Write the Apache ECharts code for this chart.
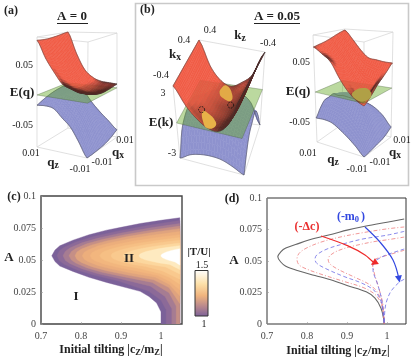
<!DOCTYPE html>
<html>
<head>
<meta charset="utf-8">
<style>
  html, body { margin: 0; padding: 0; background: #fff; }
  #chart { width: 415px; height: 359px; }
</style>
</head>
<body>
<div id="chart"></div>
<script src="https://cdn.jsdelivr.net/npm/echarts@6/dist/echarts.min.js"></script>
<script>
// tick labels of panels c and d
const tiltTicks = [0.7, 0.8, 0.9, 1]
const aTicks = [0, 0.025, 0.05, 0.075, 0.1]

// panel a, E(q): rows go qz 0.01 -> -0.01, columns qx -0.01 -> 0.01
const redA = [
  [.0912, .0905, .0905, .0915, .0930, .0950, .0967],
  [.0633, .0595, .0565, .0555, .0555, .0565, .0582],
  [.0422, .0365, .0315, .0290, .0275, .0275, .0285],
  [.0244, .0185, .0130, .0110, .0105, .0120, .0149],
  [.0184, .0120, .0060, .0030, .0040, .0065, .0090],
  [.0142, .0095, .0050, .0020, .0030, .0055, .0077],
  [.0145, .0100, .0065, .0045, .0045, .0055, .0068]
]
const blueA = [
  [-.0170, -.0130, -.0095, -.0065, -.0045, -.0032, -.0027],
  [-.0157, -.0115, -.0075, -.0040, -.0030, -.0035, -.0050],
  [-.0180, -.0125, -.0060, -.0025, -.0030, -.0080, -.0143],
  [-.0308, -.0230, -.0140, -.0070, -.0100, -.0210, -.0326],
  [-.0433, -.0360, -.0290, -.0240, -.0280, -.0370, -.0480],
  [-.0643, -.0590, -.0530, -.0500, -.0520, -.0570, -.0610],
  [-.0867, -.0867, -.0860, -.0850, -.0830, -.0790, -.0740]
]

// panel b left, E(k): rows kz 0.4 -> -0.4, columns kx -0.4 -> 0.4
const redK = [
  [3.7, 3.7, 3.7, 3.7, 3.7, 3.7, 3.7],
  [1.97, 1.65, 1.45, 1.40, 1.38, 1.40, 1.46],
  [.82, .55, .38, .30, .25, .24, .26],
  [.17, -.05, -.20, -.25, -.28, -.20, -.14],
  [.23, .05, -.10, -.12, -.08, .10, .38],
  [1.38, 1.20, 1.05, 1.0, 1.02, 1.12, 1.32],
  [3.7, 3.7, 3.7, 3.7, 3.7, 3.7, 3.7]
]
const blueK = [
  [-3.5, -1.5, -.7, -.4, -.4, -.8, -1.6],
  [-2.9, -1.1, -.4, -.15, -.1, -.4, -.9],
  [-2.6, -.9, -.3, -.1, -.05, -.25, -.6],
  [-2.5, -.8, -.3, -.08, -.05, -.2, -.5],
  [-2.6, -.9, -.35, -.1, -.05, -.3, -.7],
  [-3.0, -1.5, -.7, -.35, -.25, -.7, -1.5],
  [-3.5, -2.4, -1.3, -.8, -.5, -1.8, -3.5]
]
// [kz, kx] on the E = 0 plane
const lobeOne = [[.181, -.118], [.124, -.118], [-.021, -.234], [-.04, -.321], [.035, -.366], [.106, -.297]]
const lobeTwo = [[.097, .32], [.048, .374], [-.066, .246], [-.082, .14], [.018, .16], [.088, .23]]
const nodes = [[.202, -.09], [-.105, .074]]

// panel b right, E(q)
const redB = [
  [.0750, .0770, .0790, .0820, .0860, .0900, .0930],
  [.0658, .0640, .0630, .0640, .0680, .0730, .0772],
  [.0550, .0490, .0450, .0440, .0480, .0540, .0600],
  [.0316, .0280, .0240, .0240, .0300, .0390, .0470],
  [.0137, .0100, .0060, .0080, .0180, .0320, .0448],
  [.0023, -.0010, -.0005, .0060, .0170, .0300, .0428],
  [-.0040, .0020, .0100, .0190, .0260, .0340, .0425]
]
const blueB = [
  [-.0430, -.0305, -.0207, -.0190, -.0170, -.0240, -.0280],
  [-.0420, -.0280, -.0160, -.0120, -.0130, -.0230, -.0296],
  [-.0440, -.0300, -.0150, -.0080, -.0110, -.0220, -.0300],
  [-.0517, -.0370, -.0210, -.0090, -.0130, -.0240, -.0330],
  [-.0608, -.0480, -.0320, -.0180, -.0220, -.0320, -.0390],
  [-.0713, -.0620, -.0510, -.0410, -.0400, -.0450, -.0500],
  [-.0830, -.0820, -.0800, -.0780, -.0760, -.0720, -.0660]
]
const crossPatch = [[-.0008, -.0021], [-.0018, .0053], [-.0078, -.0009], [-.0089, -.0082], [-.0054, -.0080]]

// panel c, contours of |T/U| as [tilting, A], outermost first
const bandColors = ['#7b6199', '#8c6a98', '#a67c92', '#c58f86', '#dfa37e', '#ecae7c', '#f2b67e',
  '#f6bf84', '#f9c98e', '#fcd79e', '#feeac0', '#ffffff']
const bandEdges = [
  [[.727, .0533], [.735, .0578], [.747, .0611], [.78, .0655], [.82, .0697], [.864, .0733], [.9, .0755], [.948, .0785], [1.0, .081], [1.047, .083],
   [1.047, 0], [1.0, 0], [1.0, .0095], [.989, .0165], [.97, .0215], [.948, .0255], [.9, .0295], [.864, .0325], [.82, .0365], [.78, .0411], [.747, .0453], [.735, .0488]],
  [[.74, .0533], [.746, .0572], [.758, .06], [.789, .0643], [.832, .0684], [.894, .0727], [.97, .0771], [1.047, .0808],
   [1.047, 0], [1.013, 0], [1.013, .011], [1.0, .0185], [.97, .0255], [.894, .0335], [.832, .0382], [.789, .0423], [.758, .0466], [.746, .0494]],
  [[.755, .0533], [.761, .0569], [.773, .0595], [.802, .0634], [.843, .0671], [.901, .0711], [.974, .0751], [1.047, .0785],
   [1.047, 0], [1.027, 0], [1.027, .012], [1.01, .0215], [.974, .0295], [.901, .0352], [.843, .0392], [.802, .0432], [.773, .0471], [.761, .0497]],
  [[.77, .0533], [.776, .0566], [.787, .059], [.814, .0626], [.853, .066], [.909, .0697], [.978, .0734], [1.047, .0765],
   [1.047, 0], [1.038, 0], [1.038, .014], [1.02, .0245], [.978, .0325], [.909, .0368], [.853, .0404], [.814, .044], [.787, .0476], [.776, .05]],
  [[.785, .0533], [.79, .0563], [.801, .0585], [.827, .0618], [.864, .0649], [.916, .0683], [.982, .0717], [1.047, .0745],
   [1.047, .016], [1.02, .0285], [.982, .0345], [.916, .0382], [.864, .0416], [.827, .0448], [.801, .0481], [.79, .0503]],
  [[.803, .0533], [.808, .056], [.818, .0579], [.842, .0609], [.876, .0637], [.925, .0667], [.986, .0697], [1.047, .0722],
   [1.047, .022], [1.02, .031], [.986, .0365], [.925, .0398], [.876, .0429], [.842, .0457], [.818, .0487], [.808, .0506]],
  [[.823, .0533], [.827, .0556], [.836, .0573], [.859, .0599], [.89, .0623], [.935, .065], [.991, .0676], [1.047, .0698],
   [1.047, .0265], [1.02, .0335], [.991, .038], [.935, .0416], [.89, .0443], [.859, .0467], [.836, .0493], [.827, .051]],
  [[.847, .0533], [.851, .0553], [.859, .0568], [.879, .059], [.907, .0611], [.947, .0633], [.997, .0656], [1.047, .0675],
   [1.047, .031], [1.02, .0365], [.997, .0395], [.947, .0433], [.907, .0455], [.879, .0476], [.859, .0498], [.851, .0513]],
  [[.875, .0533], [.878, .055], [.885, .0563], [.903, .0582], [.927, .06], [.961, .0619], [1.004, .0639], [1.047, .0655],
   [1.047, .035], [1.004, .0415], [.961, .045], [.927, .0466], [.903, .0484], [.885, .0503], [.878, .0516]],
  [[.905, .0533], [.908, .0547], [.914, .0557], [.928, .0573], [.948, .0587], [.976, .0603], [1.012, .0619], [1.047, .0632],
   [1.047, .039], [1.012, .0445], [.976, .0463], [.948, .0479], [.928, .0493], [.914, .0509], [.908, .0519]],
  [[.945, .0533], [.947, .0544], [.951, .0552], [.961, .0565], [.976, .0576], [.996, .0589], [1.022, .0601], [1.047, .0612],
   [1.047, .0425], [1.022, .0465], [.996, .0477], [.976, .049], [.961, .0501], [.951, .0514], [.947, .0522]],
  [[1.0, .0533], [1.001, .0541], [1.003, .0546], [1.008, .0555], [1.014, .0563], [1.024, .0572], [1.035, .0581], [1.047, .0588],
   [1.047, .046], [1.035, .0485], [1.024, .0494], [1.014, .0503], [1.008, .0511], [1.003, .052], [1.001, .0525]]
]

// panel d, [tilting, A]
const boundary = [[1.043, .0833], [1.0, .0808], [.948, .0778], [.9, .0745], [.865, .0715], [.82, .068], [.78, .064], [.747, .0603], [.735, .0575], [.727, .0533],
  [.735, .049], [.747, .0458], [.78, .042], [.82, .0385], [.865, .0345], [.9, .0305], [.948, .0255], [.97, .0205], [.985, .0125], [.991, .005], [.993, 0]]
const redOuter = [[1.043, .077], [1.0, .0755], [.94, .0725], [.89, .0695], [.84, .0655], [.8, .0605], [.78, .056], [.775, .0515],
  [.78, .047], [.8, .0435], [.84, .039], [.89, .034], [.94, .029], [.97, .0235], [.985, .0165], [.99, .009], [.993, 0]]
const redMiddle = [[1.043, .069], [1.0, .0668], [.97, .0655], [.92, .0622], [.88, .0585], [.858, .0545], [.853, .051],
  [.858, .0475], [.88, .043], [.92, .037], [.96, .0305], [.98, .023], [.99, .012], [.993, 0]]
const redInner = [[1.043, .0585], [1.0, .0545], [.975, .052], [.962, .049], [.965, .045], [.97, .038], [.98, .028], [.99, .015], [.993, 0]]
const blueOuter = [[1.043, .0735], [1.0, .0705], [.94, .0675], [.89, .0635], [.85, .0595], [.825, .055], [.82, .0515],
  [.825, .048], [.85, .0435], [.89, .038], [.94, .032], [.97, .026], [.985, .018], [.99, .009], [.993, 0]]
const blueMiddle = [[1.043, .0595], [1.0, .055], [.98, .052], [.968, .049], [.965, .043], [.975, .033], [.985, .022], [.99, .012], [.993, 0]]
const blueInner = [[1.043, .0355], [1.03, .033], [1.01, .026], [1.0, .019], [.995, .012], [.993, 0]]
const arrowRed = [[.835, .0698], [.9025, .062], [.945, .0548], [.9675, .0484]]
const arrowBlue = [[.945, .077], [.9825, .065], [1.015, .0508], [1.03, .0357]]

const serif = '"Liberation Serif", serif'

// where the corners of each 3d box land on the page
const boxA = {
  low: [[37, 147], [87, 158], [117, 137], [68, 128]], high: [[37, 37], [88, 42], [117, 33], [68, 32]],
  eMin: -.0867, eMax: .0967, uMax: .01, vMax: .01, lo: .8, hi: 1.5, redOnTop: false
}
const boxK = {
  low: [[180, 158], [244, 175], [260, 125], [201, 118]], high: [[173, 86], [240, 100], [265, 52], [199, 40]],
  eMin: -3.5, eMax: 3.7, uMax: .4, vMax: .4, lo: .6, hi: 1.5, redOnTop: true
}
const boxB = {
  low: [[317, 142], [364, 157], [391, 137], [341, 125]], high: [[313, 35], [364, 42], [393, 32], [345, 29]],
  eMin: -.083, eMax: .095, uMax: .01, vMax: .01, lo: .8, hi: 1.6, redOnTop: false
}

function mix (a, b, t) { return a + (b - a) * t }

// trilinear, u along rows (0..1), v along columns (0..1), w up the box
function project (box, u, v, w) {
  const at = (c) => [0, 1].map(k =>
    (1 - u) * (1 - v) * c[0][k] + u * (1 - v) * c[1][k] + u * v * c[2][k] + (1 - u) * v * c[3][k])
  const a = at(box.low)
  const b = at(box.high)
  return [mix(a[0], b[0], w), mix(a[1], b[1], w)]
}

function projectE (box, u, v, e) {
  const c = Math.max(box.eMin, Math.min(box.eMax, e))
  return project(box, u, v, (c - box.eMin) / (box.eMax - box.eMin))
}

// positive when the quad shows its upper side
function quadArea (p) {
  return -((p[2][0] - p[0][0]) * (p[3][1] - p[1][1]) - (p[3][0] - p[1][0]) * (p[2][1] - p[0][1])) / 2
}

// drawing only: rounds the hand read mesh so the facets do not show
function refineLine (arr, k) {
  const n = arr.length - 1
  const out = []
  for (let i = 0; i < n; i++) {
    const p0 = arr[Math.max(i - 1, 0)]
    const p1 = arr[i]
    const p2 = arr[i + 1]
    const p3 = arr[Math.min(i + 2, n)]
    for (let s = 0; s < k; s++) {
      const t = s / k
      out.push(0.5 * (2 * p1 + (p2 - p0) * t + (2 * p0 - 5 * p1 + 4 * p2 - p3) * t * t + (3 * p1 - p0 - 3 * p2 + p3) * t * t * t))
    }
  }
  out.push(arr[n])
  return out
}

function refine (grid, k) {
  const rows = grid.map(r => refineLine(r, k))
  const cols = rows[0].map((_, j) => refineLine(rows.map(r => r[j]), k))
  return cols[0].map((_, i) => cols.map(c => c[i]))
}

function surfaceQuads (api, box, grid, color, lit) {
  const n = grid.length - 1
  const base = Math.abs(quadArea(box.low)) / (n * n)
  const out = { below: [], above: [] }
  for (let i = 0; i < n; i++) {
    for (let j = 0; j < n; j++) {
      const raw = [[i, j], [i + 1, j], [i + 1, j + 1], [i, j + 1]].map(c =>
        projectE(box, c[0] / n, c[1] / n, grid[c[0]][c[1]]))
      let fill = color
      if (lit) {
        const r = quadArea(raw) / base
        const t = Math.max(0, Math.min(1, (r - box.lo) / (box.hi - box.lo)))
        fill = 'rgb(' + Math.round(mix(88, 240, t)) + ',' + Math.round(mix(38, 92, t)) + ',' + Math.round(mix(36, 70, t)) + ')'
      }
      const el = {
        type: 'polygon',
        shape: { points: raw.map(p => api.coord(p)) },
        style: { fill: fill, stroke: fill, lineWidth: 0.5 }
      }
      const mean = (grid[i][j] + grid[i + 1][j] + grid[i + 1][j + 1] + grid[i][j + 1]) / 4
      if (mean < 0 && !(lit && box.redOnTop)) out.below.push(el)
      else out.above.push(el)
    }
  }
  return out
}

function surfaceEdge (api, box, grid) {
  const n = grid.length - 1
  const pts = []
  for (let i = 0; i <= n; i++) pts.push([i, 0])
  for (let j = 1; j <= n; j++) pts.push([n, j])
  for (let i = n - 1; i >= 0; i--) pts.push([i, n])
  for (let j = n - 1; j >= 0; j--) pts.push([0, j])
  return {
    type: 'polyline',
    shape: { points: pts.map(c => api.coord(projectE(box, c[0] / n, c[1] / n, grid[c[0]][c[1]]))) },
    style: { fill: 'none', stroke: 'rgba(60,60,60,.65)', lineWidth: 0.7 }
  }
}

function plane (api, box, fill, edge) {
  const pts = [[0, 0], [1, 0], [1, 1], [0, 1]]
  return {
    type: 'polygon',
    shape: { points: pts.map(c => api.coord(projectE(box, c[0], c[1], 0))) },
    style: { fill: fill, stroke: edge, lineWidth: 0.6 }
  }
}

function wire (api, a, b) {
  return {
    type: 'line',
    shape: { x1: api.coord(a)[0], y1: api.coord(a)[1], x2: api.coord(b)[0], y2: api.coord(b)[1] },
    style: { stroke: '#d2d2d2', lineWidth: 0.7 }
  }
}

function boxWires (api, box) {
  const out = []
  for (let k = 0; k < 4; k++) {
    out.push(wire(api, box.low[k], box.low[(k + 1) % 4]))
    out.push(wire(api, box.high[k], box.high[(k + 1) % 4]))
    out.push(wire(api, box.low[k], box.high[k]))
  }
  return out
}

function flatPatch (api, box, pts, fill) {
  return {
    type: 'polygon',
    shape: {
      smooth: 0.5,
      points: pts.map(p => api.coord(projectE(box, (box.uMax - p[0]) / (2 * box.uMax), (p[1] + box.vMax) / (2 * box.vMax), 0)))
    },
    style: { fill: fill }
  }
}

function surfaceSeries (box, red, blue, extra) {
  const redFine = refine(red, 4)
  const blueFine = refine(blue, 4)
  return {
    type: 'custom',
    xAxisIndex: 0,
    yAxisIndex: 0,
    coordinateSystem: 'cartesian2d',
    clip: false,
    silent: true,
    data: [[0, 0]],
    renderItem: function (params, api) {
      const r = surfaceQuads(api, box, redFine, null, true)
      const b = surfaceQuads(api, box, blueFine, 'rgb(142,146,206)', false)
      const children = boxWires(api, box)
        .concat(b.below, b.above, [surfaceEdge(api, box, blueFine)], r.below)
        .concat([plane(api, box, 'rgba(110,190,40,.4)', 'rgba(70,90,60,.55)')], r.above, [surfaceEdge(api, box, redFine)])
        .concat([plane(api, box, 'rgba(50,70,30,.07)', 'none')], extra(api))
      return { type: 'group', children: children }
    }
  }
}

function nodeMarks (api) {
  return nodes.map(p => {
    const c = api.coord(projectE(boxK, (boxK.uMax - p[0]) / (2 * boxK.uMax), (p[1] + boxK.vMax) / (2 * boxK.vMax), 0))
    return {
      type: 'circle',
      shape: { cx: c[0], cy: c[1], r: 3 },
      style: { fill: 'none', stroke: '#111', lineWidth: 0.9, lineDash: [1.6, 1.2] }
    }
  })
}

function txt (text, x, y, size, opt) {
  opt = opt || {}
  return {
    type: 'text',
    x: x,
    y: y,
    z: 50,
    silent: true,
    style: {
      text: text,
      font: (opt.bold ? 'bold ' : '') + size + 'px ' + serif,
      fill: opt.color || '#222',
      align: opt.align || 'center',
      verticalAlign: 'middle',
      rich: opt.rich
    }
  }
}

function subRich (size, color) {
  return {
    m: { font: 'bold ' + size + 'px ' + serif, fill: color, lineHeight: size + 2, verticalAlign: 'middle' },
    s: { font: 'bold ' + (size - 3.5) + 'px ' + serif, fill: color, lineHeight: size - 6, verticalAlign: 'bottom' }
  }
}

function subLabel (main, sub, x, y, size, opt) {
  opt = opt || {}
  const color = opt.color || '#222'
  return txt('{m|' + main + '}{s|' + sub + '}', x, y, size, { bold: true, color: color, rich: subRich(size, color) })
}

function rule (x1, x2, y) {
  return { type: 'line', z: 50, silent: true, shape: { x1: x1, y1: y, x2: x2, y2: y }, style: { stroke: '#222', lineWidth: 1 } }
}

function tiltTitle (x, y) {
  return txt('{m|Initial tilting |c}{s|Z}{m|/m}{s|Z}{m||}', x, y, 12, { bold: true, rich: subRich(12, '#222') })
}

function lineSeries (data, axis, color, width, dash) {
  return {
    type: 'line',
    xAxisIndex: axis,
    yAxisIndex: axis,
    data: data,
    smooth: 0.35,
    symbol: 'none',
    silent: true,
    lineStyle: { color: color, width: width, type: dash || 'solid' }
  }
}

function arrowSeries (data, axis, color, rotate) {
  const s = lineSeries(data, axis, color, 1.2)
  s.showSymbol = true
  s.symbol = (v, p) => p.dataIndex === data.length - 1 ? 'triangle' : 'none'
  s.symbolSize = 7
  s.symbolRotate = rotate
  s.itemStyle = { color: color }
  s.z = 5
  return s
}

const tickLabel = { fontFamily: serif, fontSize: 10, color: '#444' }

function tiltAxis (gridIndex, max) {
  return {
    type: 'value',
    gridIndex: gridIndex,
    min: tiltTicks[0],
    max: max,
    interval: 0.1,
    axisLine: { show: false },
    axisTick: { show: true, inside: true, length: 2, lineStyle: { color: '#999', width: 0.6 } },
    splitLine: { show: false },
    axisLabel: Object.assign({ margin: 7, showMaxLabel: false, formatter: v => tiltTicks.some(t => Math.abs(t - v) < 1e-6) ? String(+v.toFixed(1)) : '' }, tickLabel)
  }
}

function aAxis (gridIndex) {
  return {
    type: 'value',
    gridIndex: gridIndex,
    min: aTicks[0],
    max: aTicks[aTicks.length - 1],
    interval: 0.025,
    axisLine: { show: false },
    axisTick: { show: true, inside: true, length: 2, lineStyle: { color: '#999', width: 0.6 } },
    splitLine: { show: false },
    axisLabel: Object.assign({ margin: 5, formatter: v => String(+v.toFixed(3)) }, tickLabel)
  }
}

const chart = echarts.init(document.getElementById('chart'), null, { renderer: 'canvas' })
chart.setOption({
  animation: false,
  backgroundColor: '#fff',
  grid: [
    { left: 0, top: 0, width: 415, height: 359, show: false },
    { left: 41, top: 196, width: 141, height: 128, show: true, borderColor: '#444', borderWidth: 1.4, backgroundColor: '#fff' },
    { left: 267, top: 198, width: 139, height: 126, show: true, borderColor: '#333', borderWidth: 1, backgroundColor: '#fff' }
  ],
  xAxis: [
    { type: 'value', gridIndex: 0, min: 0, max: 415, show: false },
    tiltAxis(1, 1.0525),
    tiltAxis(2, 1.0475)
  ],
  yAxis: [
    { type: 'value', gridIndex: 0, min: 0, max: 359, inverse: true, show: false },
    aAxis(1),
    aAxis(2)
  ],
  series: [
    surfaceSeries(boxA, redA, blueA, () => []),
    surfaceSeries(boxK, redK, blueK, api => [
      flatPatch(api, boxK, lobeOne, 'rgb(232,178,72)'),
      flatPatch(api, boxK, lobeTwo, 'rgb(226,170,70)')
    ].concat(nodeMarks(api))),
    surfaceSeries(boxB, redB, blueB, api => [flatPatch(api, boxB, crossPatch, 'rgb(176,160,70)')]),
    {
      type: 'custom',
      xAxisIndex: 1,
      yAxisIndex: 1,
      silent: true,
      clip: true,
      data: bandColors.map((c, i) => [i, 0]),
      renderItem: function (params, api) {
        return {
          type: 'polygon',
          shape: { points: bandEdges[params.dataIndex].map(p => api.coord(p)) },
          style: { fill: bandColors[params.dataIndex], stroke: bandColors[params.dataIndex], lineWidth: 0.4 }
        }
      }
    },
    lineSeries(boundary, 2, '#666', 1.1),
    lineSeries(redOuter, 2, '#ee7d7d', 0.8, [4, 2, 1, 2]),
    lineSeries(redMiddle, 2, '#ee7d7d', 0.8, [4, 2, 1, 2]),
    lineSeries(redInner, 2, '#ee7d7d', 0.8, [4, 2, 1, 2]),
    lineSeries(blueOuter, 2, '#6c6ce6', 0.8, [4, 2.5]),
    lineSeries(blueMiddle, 2, '#6c6ce6', 0.8, [4, 2.5]),
    lineSeries(blueInner, 2, '#6c6ce6', 0.8, [4, 2.5]),
    arrowSeries(arrowRed, 2, '#ee2a2a', 125),
    arrowSeries(arrowBlue, 2, '#3348e0', 190)
  ],
  graphic: [
    { type: 'rect', z: -1, silent: true, shape: { x: 135.5, y: 3.5, width: 273, height: 182 }, style: { fill: 'none', stroke: '#c9c9c9', lineWidth: 1.6 } },
    txt('(a)', 4, 11, 12, { bold: true, align: 'left' }),
    txt('(b)', 140, 10, 12, { bold: true, align: 'left' }),
    txt('(c)', 14, 197, 12, { bold: true }),
    txt('(d)', 232, 199, 12, { bold: true }),
    txt('A = 0', 72, 17, 13, { bold: true }),
    rule(57, 88, 23.5),
    txt('A = 0.05', 277, 17, 13, { bold: true }),
    rule(254, 300, 23.5),
    txt('0.05', 33, 65, 10, { align: 'right' }),
    txt('E(q)', 22, 93, 13, { bold: true }),
    txt('-0.05', 33, 125, 10, { align: 'right' }),
    txt('0.01', 31, 153, 10),
    subLabel('q', 'z', 53, 163, 13),
    txt('-0.01', 80, 169, 10),
    txt('-0.01', 102, 162, 10),
    subLabel('q', 'x', 118, 153, 13),
    txt('0.01', 125, 140, 10),
    txt('0.4', 184, 40, 10),
    txt('0.4', 210, 30, 10),
    subLabel('k', 'x', 175, 55, 13),
    subLabel('k', 'z', 240, 36, 13),
    txt('-0.4', 268, 43, 10),
    txt('-0.4', 161, 75, 10),
    txt('3', 163, 93, 10),
    txt('-3', 172, 153, 10),
    txt('E(k)', 161, 123, 13, { bold: true }),
    txt('0.05', 310, 62, 10, { align: 'right' }),
    txt('E(q)', 298, 92, 13, { bold: true }),
    txt('-0.05', 310, 122, 10, { align: 'right' }),
    txt('0.01', 308, 153, 10),
    subLabel('q', 'z', 333, 160, 13),
    txt('-0.01', 357, 169, 10),
    txt('-0.01', 380, 162, 10),
    subLabel('q', 'x', 395, 153, 13),
    txt('0.01', 402, 140, 10),
    txt('A', 9, 258, 13, { bold: true }),
    txt('I', 76, 297, 13, { bold: true }),
    txt('II', 129, 259, 13, { bold: true }),
    txt('|T/U|', 199, 252, 11, { bold: true }),
    txt('1.5', 202, 265, 10),
    txt('1', 204, 324, 10),
    {
      type: 'rect',
      z: 40,
      silent: true,
      shape: { x: 195, y: 270.5, width: 13, height: 45.5 },
      style: {
        stroke: '#333',
        lineWidth: 1,
        fill: new echarts.graphic.LinearGradient(0, 0, 0, 1, [
          { offset: 0, color: '#ffffff' },
          { offset: 0.3, color: '#fde0a8' },
          { offset: 0.55, color: '#f0b47e' },
          { offset: 0.8, color: '#b4848e' },
          { offset: 1, color: '#7b6199' }
        ])
      }
    },
    tiltTitle(111, 350),
    txt('A', 234, 261, 13, { bold: true }),
    txt('(-Δc)', 307, 227, 12, { bold: true, color: '#ea2e2e' }),
    subLabel('(-m', '0', 348, 217, 12, { color: '#3348e0' }),
    txt(')', 363, 217, 12, { bold: true, color: '#3348e0' }),
    tiltTitle(338, 351)
  ]
})
window.addEventListener('resize', () => chart.resize())
</script>
</body>
</html>
